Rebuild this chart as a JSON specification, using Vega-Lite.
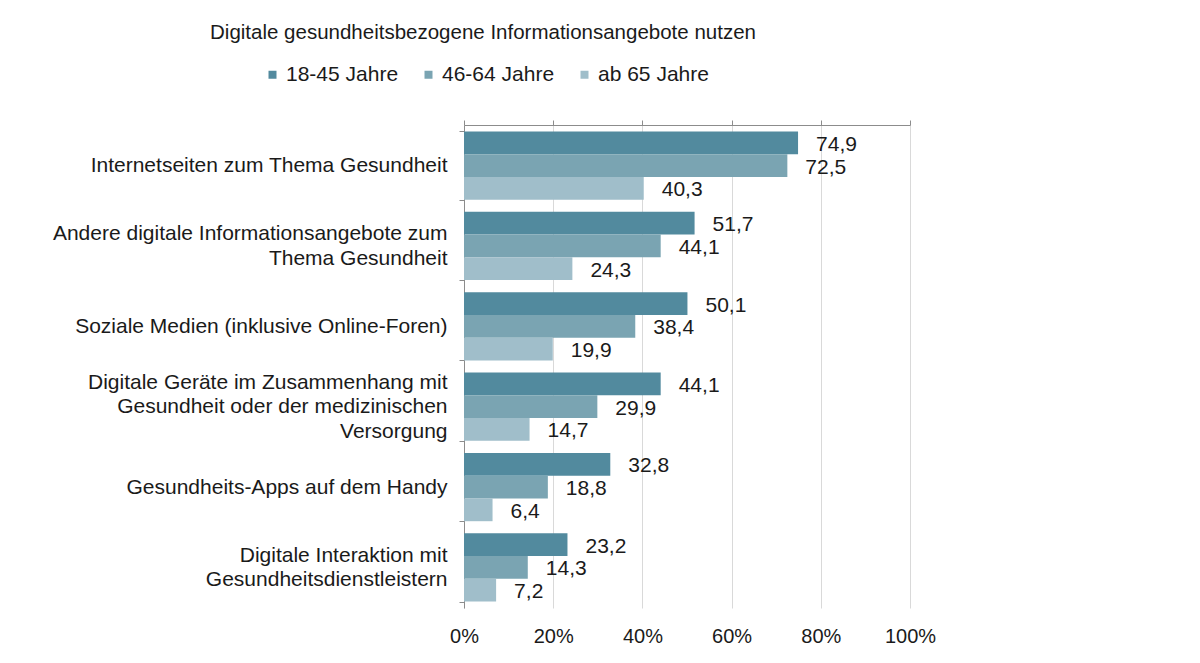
{
  "$schema": "https://vega.github.io/schema/vega-lite/v6.json",
  "autosize": "none",
  "width": 446,
  "height": 483,
  "padding": {"left": 464, "top": 125, "right": 290, "bottom": 55},
  "background": "white",
  "config": {
    "font": "Liberation Sans",
    "view": {"stroke": null},
    "locale": {"number": {"decimal": ",", "thousands": ".", "grouping": [3], "currency": ["", " €"]}}
  },
  "title": {
    "text": "Digitale gesundheitsbezogene Informationsangebote nutzen",
    "fontSize": 20.5,
    "fontWeight": "normal",
    "color": "#1a1a1a",
    "anchor": "middle",
    "frame": "group",
    "dx": -204,
    "offset": 21
  },
  "data": {
    "values": [
      {"kategorie": "Internetseiten zum Thema Gesundheit", "gruppe": "18-45 Jahre", "wert": 74.9},
      {"kategorie": "Internetseiten zum Thema Gesundheit", "gruppe": "46-64 Jahre", "wert": 72.5},
      {"kategorie": "Internetseiten zum Thema Gesundheit", "gruppe": "ab 65 Jahre", "wert": 40.3},
      {"kategorie": "Andere digitale Informationsangebote zum Thema Gesundheit", "gruppe": "18-45 Jahre", "wert": 51.7},
      {"kategorie": "Andere digitale Informationsangebote zum Thema Gesundheit", "gruppe": "46-64 Jahre", "wert": 44.1},
      {"kategorie": "Andere digitale Informationsangebote zum Thema Gesundheit", "gruppe": "ab 65 Jahre", "wert": 24.3},
      {"kategorie": "Soziale Medien (inklusive Online-Foren)", "gruppe": "18-45 Jahre", "wert": 50.1},
      {"kategorie": "Soziale Medien (inklusive Online-Foren)", "gruppe": "46-64 Jahre", "wert": 38.4},
      {"kategorie": "Soziale Medien (inklusive Online-Foren)", "gruppe": "ab 65 Jahre", "wert": 19.9},
      {"kategorie": "Digitale Geräte im Zusammenhang mit Gesundheit oder der medizinischen Versorgung", "gruppe": "18-45 Jahre", "wert": 44.1},
      {"kategorie": "Digitale Geräte im Zusammenhang mit Gesundheit oder der medizinischen Versorgung", "gruppe": "46-64 Jahre", "wert": 29.9},
      {"kategorie": "Digitale Geräte im Zusammenhang mit Gesundheit oder der medizinischen Versorgung", "gruppe": "ab 65 Jahre", "wert": 14.7},
      {"kategorie": "Gesundheits-Apps auf dem Handy", "gruppe": "18-45 Jahre", "wert": 32.8},
      {"kategorie": "Gesundheits-Apps auf dem Handy", "gruppe": "46-64 Jahre", "wert": 18.8},
      {"kategorie": "Gesundheits-Apps auf dem Handy", "gruppe": "ab 65 Jahre", "wert": 6.4},
      {"kategorie": "Digitale Interaktion mit Gesundheitsdienstleistern", "gruppe": "18-45 Jahre", "wert": 23.2},
      {"kategorie": "Digitale Interaktion mit Gesundheitsdienstleistern", "gruppe": "46-64 Jahre", "wert": 14.3},
      {"kategorie": "Digitale Interaktion mit Gesundheitsdienstleistern", "gruppe": "ab 65 Jahre", "wert": 7.2}
    ]
  },
  "encoding": {
    "y": {
      "field": "kategorie",
      "type": "nominal",
      "sort": null,
      "scale": {"paddingInner": 0.15, "paddingOuter": 0.08},
      "axis": {
        "title": null,
        "labelFontSize": 21,
        "labelColor": "#1a1a1a",
        "labelLimit": 500,
        "labelPadding": 12,
        "labelLineHeight": 24.5,
        "labelOffset": {
          "condition": [
            {"test": "datum.value == 'Andere digitale Informationsangebote zum Thema Gesundheit'", "value": -12},
            {"test": "datum.value == 'Digitale Interaktion mit Gesundheitsdienstleistern'", "value": -12},
            {"test": "datum.value == 'Digitale Geräte im Zusammenhang mit Gesundheit oder der medizinischen Versorgung'", "value": -24.5}
          ],
          "value": 0
        },
        "tickBand": "extent",
        "tickSize": 5,
        "tickColor": "#8c8c8c",
        "domainColor": "#8c8c8c",
        "labelExpr": "datum.label == 'Andere digitale Informationsangebote zum Thema Gesundheit' ? ['Andere digitale Informationsangebote zum', 'Thema Gesundheit'] : datum.label == 'Digitale Geräte im Zusammenhang mit Gesundheit oder der medizinischen Versorgung' ? ['Digitale Geräte im Zusammenhang mit', 'Gesundheit oder der medizinischen', 'Versorgung'] : datum.label == 'Digitale Interaktion mit Gesundheitsdienstleistern' ? ['Digitale Interaktion mit', 'Gesundheitsdienstleistern'] : datum.label"
      }
    },
    "yOffset": {"field": "gruppe", "type": "nominal", "sort": ["18-45 Jahre", "46-64 Jahre", "ab 65 Jahre"]},
    "x": {
      "field": "wert",
      "type": "quantitative",
      "scale": {"domain": [0, 100]},
      "axis": null
    }
  },
  "layer": [
    {
      "mark": {"type": "bar", "tooltip": false},
      "encoding": {
        "x": {
          "field": "wert",
          "type": "quantitative",
          "scale": {"domain": [0, 100]},
          "axis": {
            "orient": "bottom",
            "title": null,
            "values": [0, 20, 40, 60, 80, 100],
            "labelExpr": "datum.value + '%'",
            "labelFontSize": 20,
            "labelColor": "#1a1a1a",
            "labelPadding": 18,
            "labelFlush": false,
            "ticks": false,
            "domain": false,
            "grid": true,
            "gridColor": "#d9d9d9",
            "zindex": 0
          }
        },
        "color": {
          "field": "gruppe",
          "type": "nominal",
          "sort": ["18-45 Jahre", "46-64 Jahre", "ab 65 Jahre"],
          "scale": {"range": ["#528a9e", "#7aa4b2", "#a0beca"]},
          "legend": {
            "title": null,
            "orient": "none",
            "direction": "horizontal",
            "legendX": -202,
            "legendY": -61,
            "symbolType": "square",
            "symbolSize": 64,
            "symbolStrokeWidth": 0,
            "labelFontSize": 21,
            "labelColor": "#1a1a1a",
            "labelOffset": 3,
            "columnPadding": 19
          }
        }
      }
    },
    {
      "mark": {"type": "text", "align": "left", "baseline": "middle", "dx": 18, "dy": 2, "fontSize": 21, "color": "#1a1a1a"},
      "encoding": {
        "text": {"field": "wert", "type": "quantitative", "format": ".1f"}
      }
    },
    {
      "mark": {"type": "rule", "opacity": 0},
      "encoding": {
        "x": {
          "field": "wert",
          "type": "quantitative",
          "scale": {"domain": [0, 100]},
          "axis": {
            "orient": "top",
            "title": null,
            "values": [0, 20, 40, 60, 80, 100],
            "labels": false,
            "ticks": true,
            "tickSize": 5,
            "tickColor": "#8c8c8c",
            "domainColor": "#8c8c8c",
            "grid": false
          }
        }
      }
    }
  ],
  "resolve": {"axis": {"x": "independent"}}
}
